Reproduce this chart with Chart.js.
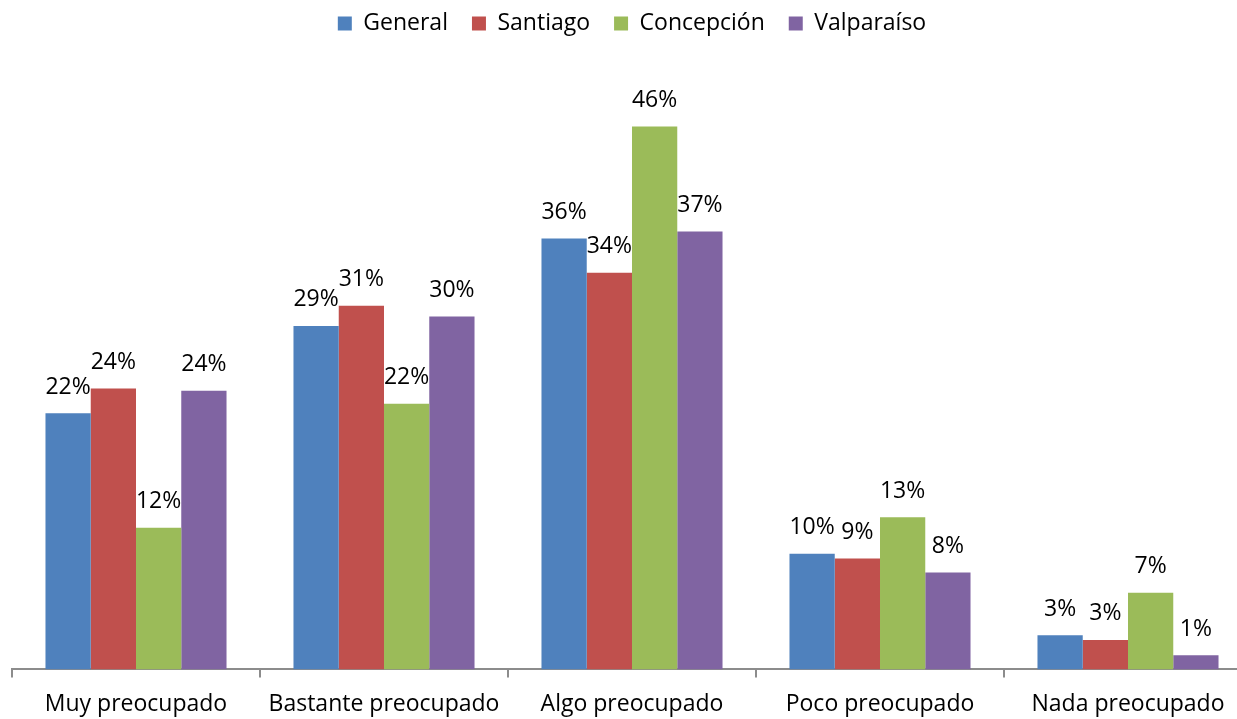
<!DOCTYPE html>
<html>
<head>
<meta charset="utf-8">
<script src="https://cdn.jsdelivr.net/npm/chart.js@4"></script>
<style>
  html, body { margin: 0; padding: 0; background: #fff; overflow: hidden; }
  #wrap { width: 1260px; height: 719px; }
</style>
</head>
<body>
<div id="wrap"><canvas id="grafico" width="1260" height="719"></canvas></div>
<script>
var categorias = ["Muy preocupado", "Bastante preocupado", "Algo preocupado", "Poco preocupado", "Nada preocupado"];
var series = ["General", "Santiago", "Concepción", "Valparaíso"];

var general    = [21.7, 29.1, 36.5, 9.8, 2.9];
var santiago   = [23.8, 30.8, 33.6, 9.4, 2.5];
var concepcion = [12.0, 22.5, 46.0, 12.9, 6.5];
var valparaiso = [23.6, 29.9, 37.1, 8.2, 1.2];

var etqGeneral    = [22, 29, 36, 10, 3];
var etqSantiago   = [24, 31, 34, 9, 3];
var etqConcepcion = [12, 22, 46, 13, 7];
var etqValparaiso = [24, 30, 37, 8, 1];

var Colores = ['#4F81BD', '#C0504D', '#9BBB59', '#8064A2'];
var fuente = "'Open Sans', sans-serif";

var valores = [general, santiago, concepcion, valparaiso];
var etiquetas = [etqGeneral, etqSantiago, etqConcepcion, etqValparaiso];

var datasets = [];
for (var i = 0; i < series.length; i++) {
    datasets.push({
        label: series[i],
        data: valores[i],
        etiquetas: etiquetas[i],
        backgroundColor: Colores[i],
        borderWidth: 0,
        categoryPercentage: 0.73,
        barPercentage: 1.0
    });
}

// dibuja los porcentajes sobre cada barra
var etiquetasPlugin = {
    id: 'etiquetas',
    afterDatasetsDraw: function(chart) {
        var ctx = chart.ctx;
        ctx.save();
        ctx.font = "23px " + fuente;
        ctx.fillStyle = '#000';
        ctx.textAlign = 'center';
        ctx.textBaseline = 'middle';
        chart.data.datasets.forEach(function(ds, d) {
            var meta = chart.getDatasetMeta(d);
            meta.data.forEach(function(bar, j) {
                ctx.fillText(ds.etiquetas[j] + '%', bar.x, bar.y - 26);
            });
        });
        ctx.restore();
    }
};

var canvas = document.getElementById("grafico").getContext('2d');

var miGrafico = new Chart(canvas, {
    type: 'bar',
    data: {
        labels: categorias,
        datasets: datasets
    },
    options: {
        responsive: false,
        animation: false,
        layout: {
            padding: { left: 12, right: 8, top: -12, bottom: -12 }
        },
        plugins: {
            legend: {
                display: true,
                position: 'top',
                labels: {
                    boxWidth: 14,
                    boxHeight: 14,
                    padding: 24,
                    color: '#000',
                    font: { family: fuente, size: 23 }
                }
            },
            tooltip: { enabled: false }
        },
        scales: {
            x: {
                offset: true,
                grid: {
                    display: true,
                    offset: true,
                    drawOnChartArea: false,
                    drawTicks: true,
                    tickLength: 8,
                    color: '#8c8c8c',
                    lineWidth: 2
                },
                border: { display: true, color: '#8c8c8c', width: 2 },
                ticks: {
                    color: '#000',
                    padding: 13,
                    maxRotation: 0,
                    autoSkip: false,
                    font: { family: fuente, size: 23 }
                }
            },
            y: {
                display: false,
                min: 0,
                max: 52.9
            }
        }
    },
    plugins: [etiquetasPlugin]
});
</script>
</body>
</html>
